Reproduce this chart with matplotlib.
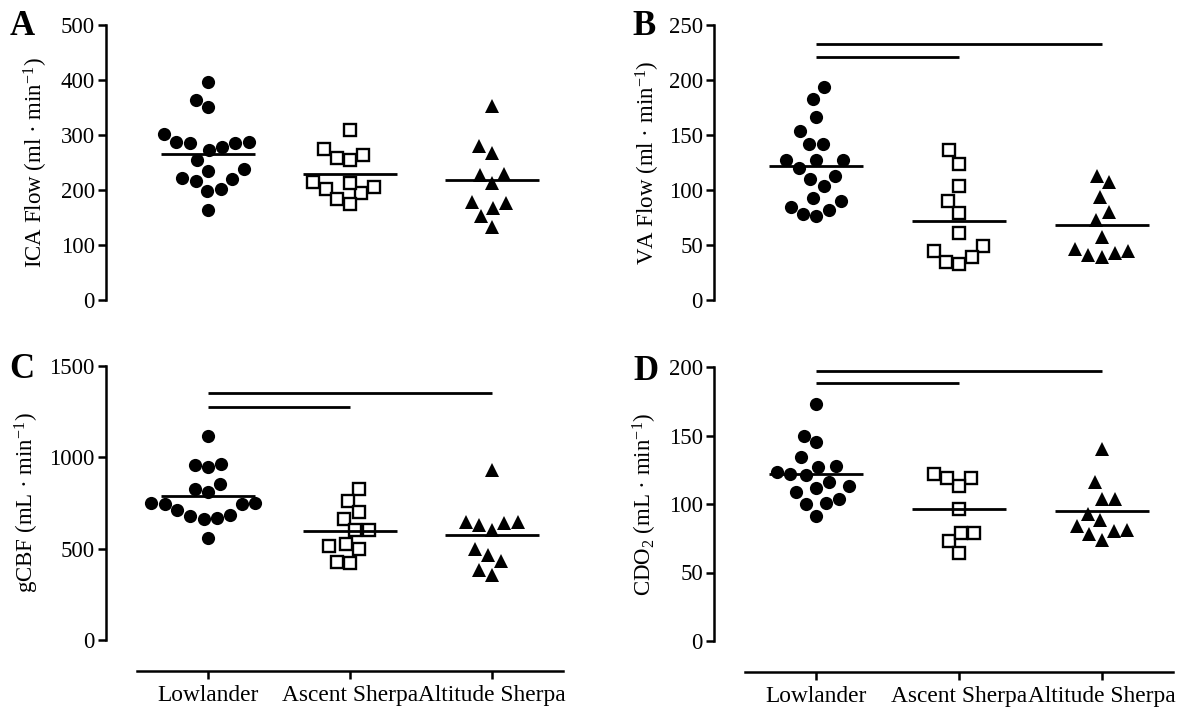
import numpy as np
import matplotlib
matplotlib.use("Agg")
import matplotlib.pyplot as plt

plt.rcParams['font.family'] = ['Liberation Serif', 'DejaVu Serif']
plt.rcParams['mathtext.fontset'] = 'custom'
plt.rcParams['mathtext.rm'] = 'Liberation Serif'
plt.rcParams['mathtext.it'] = 'Liberation Serif:italic'
plt.rcParams['mathtext.bf'] = 'Liberation Serif:bold'

groups = ['Lowlander', 'Ascent Sherpa', 'Altitude Sherpa']

# A: ICA flow
ica_low = [396, 364, 350, 288, 285, 279, 272, 285, 288, 301, 255, 235, 238, 220, 221, 216, 201, 198, 163]
ica_asc = [309, 263, 255, 259, 274, 205, 194, 215, 212, 202, 175, 183]
ica_alt = [353, 280, 268, 230, 227, 213, 177, 168, 179, 152, 133]
ica_mean = [266, 229, 219]

# B: VA flow
va_low = [194, 183, 166, 154, 142, 142, 127, 127, 127, 120, 113, 110, 104, 93, 90, 85, 82, 78, 76]
va_asc = [136, 124, 104, 90, 79, 61, 49, 45, 39, 33, 35]
va_alt = [113, 107, 94, 80, 73, 57, 46, 43, 39, 41, 45]
va_mean = [122, 72, 68]
va_sig = [(0, 1, 221), (0, 2, 233)]

# C: gCBF
gcbf_low = [1115, 960, 945, 965, 854, 828, 810, 750, 745, 750, 745, 710, 684, 670, 660, 680, 560]
gcbf_asc = [827, 763, 703, 662, 602, 602, 500, 526, 515, 420, 429]
gcbf_alt = [931, 648, 642, 602, 630, 648, 496, 465, 434, 383, 356]
gcbf_mean = [790, 597, 573]
gcbf_sig = [(0, 1, 1274), (0, 2, 1350)]

# D: CDO2
cdo_low = [173, 150, 145, 134, 128, 127, 122, 123, 121, 116, 112, 113, 109, 104, 101, 100, 91]
cdo_asc = [122, 119, 113, 119, 96, 79, 73, 79, 64]
cdo_alt = [140, 116, 104, 104, 93, 84, 80, 74, 78, 81, 88]
cdo_mean = [122, 96, 95]
cdo_sig = [(0, 1, 188), (0, 2, 197)]


def swarm_offsets(ax, values, diam=13.5, yscale=0.7):
    # beeswarm in pixel space (y squeezed so rows spread wider), x offsets in data units
    ypx = ax.transData.transform(np.column_stack([np.zeros(len(values)), values]))[:, 1] * yscale
    placed = []
    xs = np.zeros(len(values))
    for i in np.argsort(ypx):
        y = ypx[i]
        cands = [0.0]
        for px, py in placed:
            dy = abs(py - y)
            if dy < diam:
                dx = np.sqrt(diam ** 2 - dy ** 2)
                cands += [px - dx, px + dx]
        cands.sort(key=abs)
        for c in cands:
            if all((c - px) ** 2 + (y - py) ** 2 >= diam ** 2 - 1e-6 for px, py in placed):
                xs[i] = c
                placed.append((c, y))
                break
    return xs / (ax.bbox.width / 3.0)


fig = plt.figure(figsize=(11.84, 7.12), dpi=100)
W, H = 1184, 712

def make_ax(x0, x1, ytop, ybot):
    return fig.add_axes([x0 / W, 1 - ybot / H, (x1 - x0) / W, (ybot - ytop) / H])

panels = [
    dict(ax=make_ax(137, 563, 25, 300), data=[ica_low, ica_asc, ica_alt], mean=ica_mean, sig=[],
         ylim=500, ticks=np.arange(0, 501, 100), label='ICA Flow (ml · min$^{-1}$)',
         letter='A', lpos=(10, 35), labx=-0.205, bottom=False),
    dict(ax=make_ax(745, 1173, 25, 300), data=[va_low, va_asc, va_alt], mean=va_mean, sig=va_sig,
         ylim=250, ticks=np.arange(0, 251, 50), label='VA Flow (ml · min$^{-1}$)',
         letter='B', lpos=(632, 35), labx=-0.195, bottom=False),
    dict(ax=make_ax(137, 563, 366, 640), data=[gcbf_low, gcbf_asc, gcbf_alt], mean=gcbf_mean, sig=gcbf_sig,
         ylim=1500, ticks=np.arange(0, 1501, 500), label='gCBF (mL · min$^{-1}$)',
         letter='C', lpos=(9, 378), labx=-0.225, bottom=True),
    dict(ax=make_ax(745, 1173, 367, 641), data=[cdo_low, cdo_asc, cdo_alt], mean=cdo_mean, sig=cdo_sig,
         ylim=200, ticks=np.arange(0, 201, 50), label='CDO$_2$ (mL · min$^{-1}$)',
         letter='D', lpos=(633, 380), labx=-0.2, bottom=True),
]

styles = [
    dict(marker='o', color='black', markersize=9.5, markeredgewidth=0),
    dict(marker='s', markerfacecolor='white', markeredgecolor='black', markersize=8.2, markeredgewidth=1.7),
    dict(marker='^', color='black', markersize=10, markeredgewidth=0),
]

for p in panels:
    ax = p['ax']
    ax.set_xlim(-0.5, 2.5)
    ax.set_ylim(0, p['ylim'])
    for g, vals in enumerate(p['data']):
        off = swarm_offsets(ax, vals)
        ax.plot(g + off, vals, linestyle='none', clip_on=False, zorder=3, **styles[g])
        ax.plot([g - 0.33, g + 0.33], [p['mean'][g]] * 2, color='black', lw=2, zorder=4,
                solid_capstyle='butt')
    for x1, x2, y in p['sig']:
        ax.plot([x1, x2], [y, y], color='black', lw=2, clip_on=False, solid_capstyle='butt')

    ax.spines['top'].set_visible(False)
    ax.spines['right'].set_visible(False)
    ax.spines['left'].set_position(('outward', 22.3))
    ax.spines['left'].set_linewidth(1.8)
    ax.set_yticks(p['ticks'])
    ax.tick_params(axis='y', length=6, width=1.8, labelsize=16.5, pad=2)
    if p['bottom']:
        ax.spines['bottom'].set_position(('outward', 22.3))
        ax.spines['bottom'].set_linewidth(1.8)
        ax.set_xticks([0, 1, 2])
        ax.set_xticklabels(groups)
        ax.tick_params(axis='x', length=6, width=1.8, labelsize=16.8, pad=4)
    else:
        ax.spines['bottom'].set_visible(False)
        ax.set_xticks([])
    ax.set_ylabel(p['label'], fontsize=16.5)
    ax.yaxis.set_label_coords(p['labx'], 0.5)
    fig.text(p['lpos'][0] / W, 1 - p['lpos'][1] / H, p['letter'], fontsize=25,
             fontweight='bold', ha='left', va='baseline')

fig.savefig('out.png', dpi=100)
